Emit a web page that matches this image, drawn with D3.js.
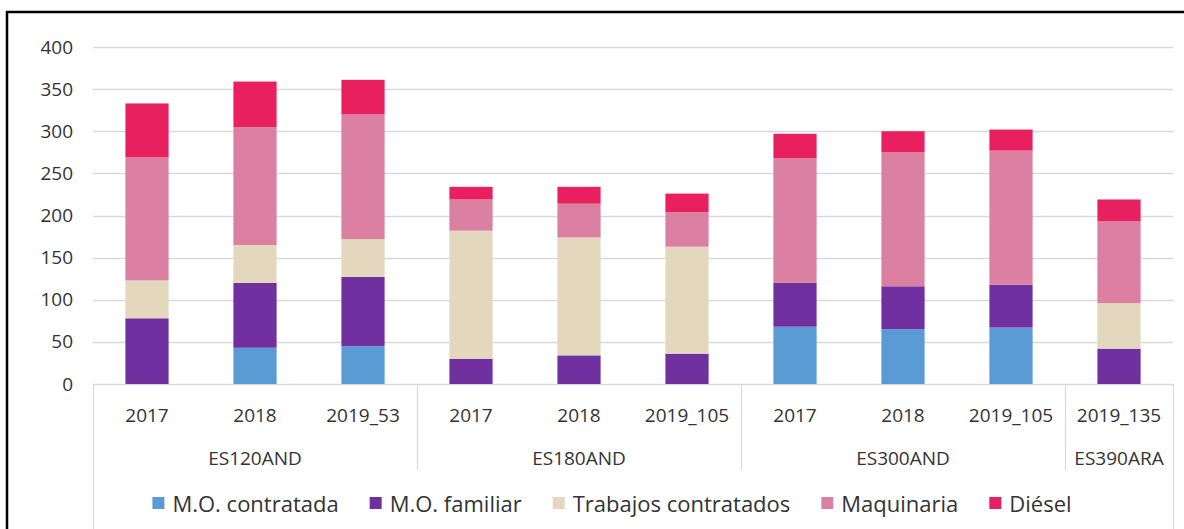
<!DOCTYPE html>
<html>
<head>
<meta charset="utf-8">
<script src="https://cdn.jsdelivr.net/npm/d3@7"></script>
<style>
  html, body { margin: 0; padding: 0; background: #fff; }
  svg { display: block; }
  text { font-family: "Open Sans", "Noto Sans", sans-serif; fill: #333; }
</style>
</head>
<body>
<svg id="chart" width="1184" height="529"></svg>
<script>
// ---- data ----
const categories = ["2017", "2018", "2019_53", "2017", "2018", "2019_105", "2017", "2018", "2019_105", "2019_135"];
const groups = ["ES120AND", "ES180AND", "ES300AND", "ES390ARA"];
const groupSizes = [3, 3, 3, 1];
const seriesNames = ["M.O. contratada", "M.O. familiar", "Trabajos contratados", "Maquinaria", "Diésel"];
const moContratada = [0, 43, 45, 0, 0, 0, 68, 65, 67, 0];
const moFamiliar   = [78, 77, 82, 30, 34, 36, 52, 51, 51, 42];
const trabajos     = [45, 45, 45, 152, 140, 127, 0, 0, 0, 54];
const maquinaria   = [146, 140, 148, 37, 40, 41, 148, 159, 159, 97];
const diesel       = [64, 54, 41, 15, 20, 22, 29, 25, 25, 26];
const yTicks = [0, 50, 100, 150, 200, 250, 300, 350, 400];
const colors = ["#5b9bd5", "#7030a0", "#e3d8bd", "#dc80a1", "#e8205f"];

// ---- build ----
const svg = d3.select("#chart");
const W = 1184, H = 529;
const plot = { left: 93, right: 1173, top: 47, bottom: 384 };

// frame
svg.append("path")
  .attr("d", `M7,${H + 5} L7,12 L${W + 5},12`)
  .attr("fill", "none").attr("stroke", "#000").attr("stroke-width", 2.5);

const seriesData = [moContratada, moFamiliar, trabajos, maquinaria, diesel];
const rows = categories.map((c, i) => {
  const r = { idx: i };
  seriesNames.forEach((s, k) => r[s] = seriesData[k][i]);
  return r;
});

const x = d3.scaleBand().domain(d3.range(categories.length))
  .range([plot.left, plot.right]).paddingInner(0.6).paddingOuter(0.3);
const y = d3.scaleLinear().domain([0, 400]).range([plot.bottom, plot.top]);

// gridlines
svg.append("g").selectAll("line").data(yTicks).join("line")
  .attr("x1", plot.left).attr("x2", plot.right)
  .attr("y1", d => Math.round(y(d)) + 0.5).attr("y2", d => Math.round(y(d)) + 0.5)
  .attr("stroke", "#d9d9d9").attr("stroke-width", 1.5);

// y axis labels
const yAxis = d3.axisLeft(y).tickValues(yTicks).tickSize(0).tickPadding(0);
const yg = svg.append("g").attr("transform", `translate(73,0)`).call(yAxis);
yg.select(".domain").remove();
yg.selectAll("text").attr("font-size", 19).style("font-family", "'Open Sans', sans-serif").attr("fill", "#333");

// bars
const stack = d3.stack().keys(seriesNames);
const stacked = stack(rows);
svg.append("g").selectAll("g").data(stacked).join("g")
  .attr("fill", (d, i) => colors[i])
  .selectAll("rect").data(d => d).join("rect")
  .attr("x", d => x(d.data.idx))
  .attr("width", x.bandwidth())
  .attr("y", d => y(d[1]))
  .attr("height", d => Math.max(0, y(d[0]) - y(d[1])));

// category axis lines
const step = x.step();
const x0 = plot.left;
let cum = 0;
const bounds = [0];
groupSizes.forEach(s => { cum += s; bounds.push(cum); });
svg.append("g").selectAll("line").data(bounds).join("line")
  .attr("x1", d => Math.round(x0 + d * step) + 0.5)
  .attr("x2", d => Math.round(x0 + d * step) + 0.5)
  .attr("y1", plot.bottom)
  .attr("y2", (d, i) => (i === 0 || i === bounds.length - 1) ? H : 470)
  .attr("stroke", "#d9d9d9").attr("stroke-width", 1.2);

// category labels
svg.append("g").selectAll("text").data(categories).join("text")
  .attr("x", (d, i) => x(i) + x.bandwidth() / 2)
  .attr("y", 415)
  .attr("text-anchor", "middle").attr("dominant-baseline", "central")
  .attr("font-size", 19)
  .text(d => d);

// group labels
svg.append("g").selectAll("text").data(groups).join("text")
  .attr("x", (d, i) => x0 + (bounds[i] + bounds[i + 1]) / 2 * step)
  .attr("y", 458)
  .attr("text-anchor", "middle").attr("dominant-baseline", "central")
  .attr("font-size", 19)
  .text(d => d);

// legend
const lg = svg.append("g");
const items = lg.selectAll("g").data(seriesNames).join("g");
items.append("rect").attr("width", 12).attr("height", 12).attr("y", -6)
  .attr("fill", (d, i) => colors[i]);
items.append("text").attr("x", 20).attr("y", 0)
  .attr("dominant-baseline", "central").attr("font-size", 22)
  .text(d => d);
const gap = 31;
let widths = [];
items.each(function () { widths.push(this.getBBox().width); });
const total = d3.sum(widths) + gap * (widths.length - 1);
let cx = 612 - total / 2;
items.attr("transform", (d, i) => {
  const t = `translate(${cx},503)`;
  cx += widths[i] + gap;
  return t;
});
</script>
</body>
</html>
